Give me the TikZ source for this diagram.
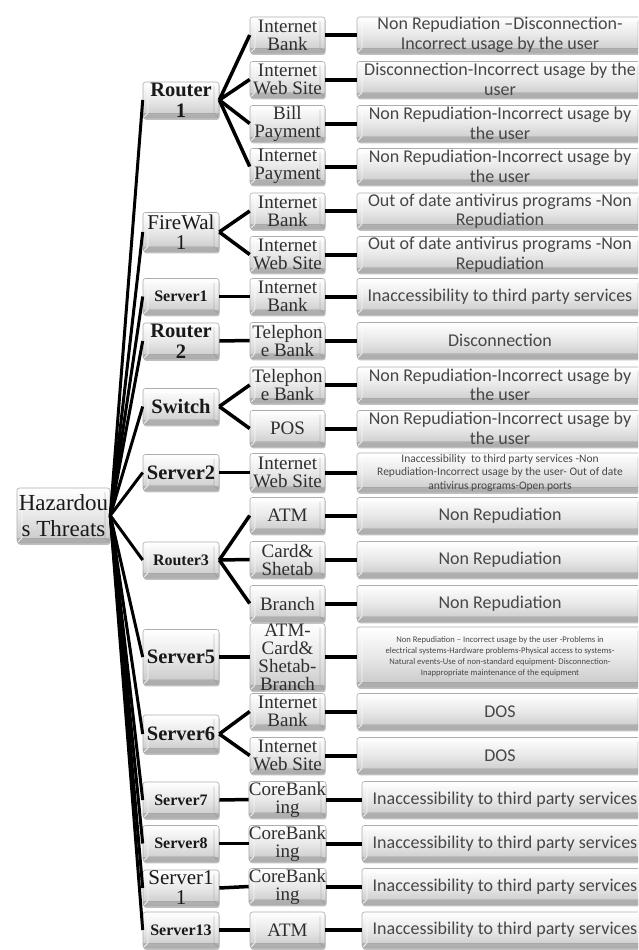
\documentclass[tikz,border=0pt]{standalone}
\usepackage{fontspec}
\setmainfont{Liberation Serif}
\newfontfamily\calib{Carlito}
\usetikzlibrary{shadows,calc}
\tikzset{
  box/.style={draw=black!32, line width=0.6pt, rounded corners=2.5pt,
    top color=white, bottom color=black!22, middle color=black!9,
    drop shadow={shadow xshift=0.6pt, shadow yshift=-1.8pt, fill=black!55, opacity=0.45},
    inner sep=0pt, align=center,
    path picture={
      \begin{scope}[sharp corners]
      \path (path picture bounding box.north west) coordinate (bnw)
            (path picture bounding box.south east) coordinate (bse);
      \fill[black!45, opacity=0.45] (bnw |- bse) rectangle ($(bse)+(0,-5)$);
      \draw[white, opacity=0.8, line width=0.8pt]
        (bnw) -- ($(bnw)+(5,4)$) -- ($(bnw -| bse)+(-5,4)$) -- (bnw -| bse);
      \draw[white, opacity=0.8, line width=0.8pt]
        ($(bnw)+(5,4)$) -- ($(bnw |- bse)+(5,-5)$) -- (bnw |- bse);
      \draw[black!45, opacity=0.45, line width=0.8pt]
        ($(bnw -| bse)+(-5,4)$) -- ($(bse)+(-5,-5)$) -- (bse);
      \draw[black!40, opacity=0.35, line width=0.6pt]
        ($(bnw |- bse)+(5,-5)$) -- ($(bse)+(-5,-5)$);
      \end{scope}
    }},
  l1/.style={box, minimum width=76pt, minimum height=36pt, text=black!90},
  l2/.style={box, minimum width=75pt, minimum height=36pt, text=black!82,
    font=\fontsize{19}{18}\selectfont},
  l3/.style={box, minimum width=286pt, minimum height=36pt, text=black!72,
    font=\calib\fontsize{18}{19.5}\selectfont},
  fbig/.style={font=\fontsize{20.5}{21}\selectfont\bfseries},
  fsmall/.style={font=\fontsize{16}{16}\selectfont\bfseries},
  freg/.style={font=\fontsize{21}{20}\selectfont},
  cA/.style={line width=3pt, black},
  cB/.style={line width=3.5pt, black},
  cC/.style={line width=4pt, black}
}
\begin{document}
\begin{tikzpicture}[x=1pt,y=-1pt]
\useasboundingbox (0,0) rectangle (638,950);
\clip (0,0) rectangle (638,950);
\fill[white] (0,0) rectangle (638,950);

% root
\node[box, minimum width=93pt, minimum height=55pt, text=black!90,
  font=\fontsize{23}{26}\selectfont] (root) at (63.5,515.5) {Hazardou\\s Threats};

% level 1
\node[l1, fbig] (r1) at (181,100) {Router\\1};
\node[l1, freg, minimum height=39pt] (fw) at (181,232) {FireWal\\1};
\node[l1, fsmall] (s1) at (181,296.5) {Server1};
\node[l1, fbig] (r2) at (181,341) {Router\\2};
\node[l1, fbig] (sw) at (181,406.5) {Switch};
\node[l1, fbig] (s2) at (181,472.5) {Server2};
\node[l1, fsmall] (r3) at (181,560) {Router3};
\node[l1, fbig, minimum height=55pt] (s5) at (181,657) {Server5};
\node[l1, fbig, minimum height=38pt] (s6) at (181,734) {Server6};
\node[l1, fsmall] (s7) at (181,800) {Server7};
\node[l1, fsmall] (s8) at (181,843.5) {Server8};
\node[l1, freg] (s11) at (181,888) {Server1\\1};
\node[l1, fsmall] (s13) at (181,930) {Server13};

% level 2
\node[l2] (a1) at (287.5,35) {Internet\\Bank};
\node[l2] (a2) at (287.5,79.5) {Internet\\Web Site};
\node[l2] (a3) at (287.5,123.5) {Bill\\Payment};
\node[l2] (a4) at (287.5,166.5) {Internet\\Payment};
\node[l2] (a5) at (287.5,211) {Internet\\Bank};
\node[l2] (a6) at (287.5,254.5) {Internet\\Web Site};
\node[l2] (a7) at (287.5,296.5) {Internet\\Bank};
\node[l2] (a8) at (287.5,340.5) {Telephon\\e Bank};
\node[l2] (a9) at (287.5,385) {Telephon\\e Bank};
\node[l2] (a10) at (287.5,428.5) {POS};
\node[l2, minimum height=38pt] (a11) at (287.5,472.5) {Internet\\Web Site};
\node[l2] (a12) at (287.5,515.5) {ATM};
\node[l2] (a13) at (287.5,559.5) {Card\&\\Shetab};
\node[l2] (a14) at (287.5,603.5) {Branch};
\node[l2, minimum height=60pt] (a15) at (287.5,657) {ATM-\\Card\&\\Shetab-\\Branch};
\node[l2] (a16) at (287.5,711.5) {Internet\\Bank};
\node[l2] (a17) at (287.5,755.5) {Internet\\Web Site};
\node[l2] (a18) at (287.5,799.5) {CoreBank\\ing};
\node[l2] (a19) at (287.5,843.5) {CoreBank\\ing};
\node[l2] (a20) at (287.5,886.5) {CoreBank\\ing};
\node[l2] (a21) at (287.5,930) {ATM};

% level 3
\node[l3] (b1) at (500,35) {Non Repudiation –Disconnection-\\Incorrect usage by the user};
\node[l3] (b2) at (500,79.5) {Disconnection-Incorrect usage by the\\user};
\node[l3] (b3) at (500,123.5) {Non Repudiation-Incorrect usage by\\the user};
\node[l3] (b4) at (500,166.5) {Non Repudiation-Incorrect usage by\\the user};
\node[l3] (b5) at (500,211) {Out of date antivirus programs -Non\\Repudiation};
\node[l3] (b6) at (500,254.5) {Out of date antivirus programs -Non\\Repudiation};
\node[l3] (b7) at (500,296.5) {Inaccessibility to third party services};
\node[l3] (b8) at (500,340.5) {Disconnection};
\node[l3] (b9) at (500,385) {Non Repudiation-Incorrect usage by\\the user};
\node[l3] (b10) at (500,428.5) {Non Repudiation-Incorrect usage by\\the user};
\node[l3, minimum height=39pt, font=\calib\fontsize{11.5}{13.5}\selectfont] (b11) at (500,472.5)
  {Inaccessibility \ to third party services -Non\\Repudiation-Incorrect usage by the user- Out of date\\antivirus programs-Open ports};
\node[l3] (b12) at (500,515.5) {Non Repudiation};
\node[l3] (b13) at (500,559.5) {Non Repudiation};
\node[l3] (b14) at (500,603.5) {Non Repudiation};
\node[l3, minimum height=60pt, font=\calib\fontsize{8.6}{11}\selectfont] (b15) at (500,657)
  {Non Repudiation – Incorrect usage by the user -Problems in\\electrical systems-Hardware problems-Physical access to systems-\\Natural events-Use of non-standard equipment- Disconnection-\\Inappropriate maintenance of the equipment};
\node[l3] (b16) at (500,711.5) {DOS};
\node[l3] (b17) at (500,755.5) {DOS};
\node[l3] (b18) at (505,799.5) {Inaccessibility to third party services};
\node[l3] (b19) at (505,843.5) {Inaccessibility to third party services};
\node[l3] (b20) at (505,886.5) {Inaccessibility to third party services};
\node[l3] (b21) at (505,930) {Inaccessibility to third party services};

% connectors root -> level 1
\foreach \n in {r1,fw,s1,r2,sw,s2,r3,s5,s6,s7,s8,s11,s13}
  \draw[cA] (root.east) -- (\n.west);

% level 1 -> level 2
\foreach \p/\c in {r1/a1,r1/a2,r1/a3,r1/a4,fw/a5,fw/a6,s1/a7,r2/a8,sw/a9,sw/a10,
  s2/a11,r3/a12,r3/a13,r3/a14,s5/a15,s6/a16,s6/a17,s7/a18,s8/a19,s11/a20,s13/a21}
  \draw[cB] (\p.east) -- (\c.west);

% level 2 -> level 3
\foreach \i in {1,...,21}
  \draw[cC] (a\i.east) -- (b\i.west);
\end{tikzpicture}
\end{document}
